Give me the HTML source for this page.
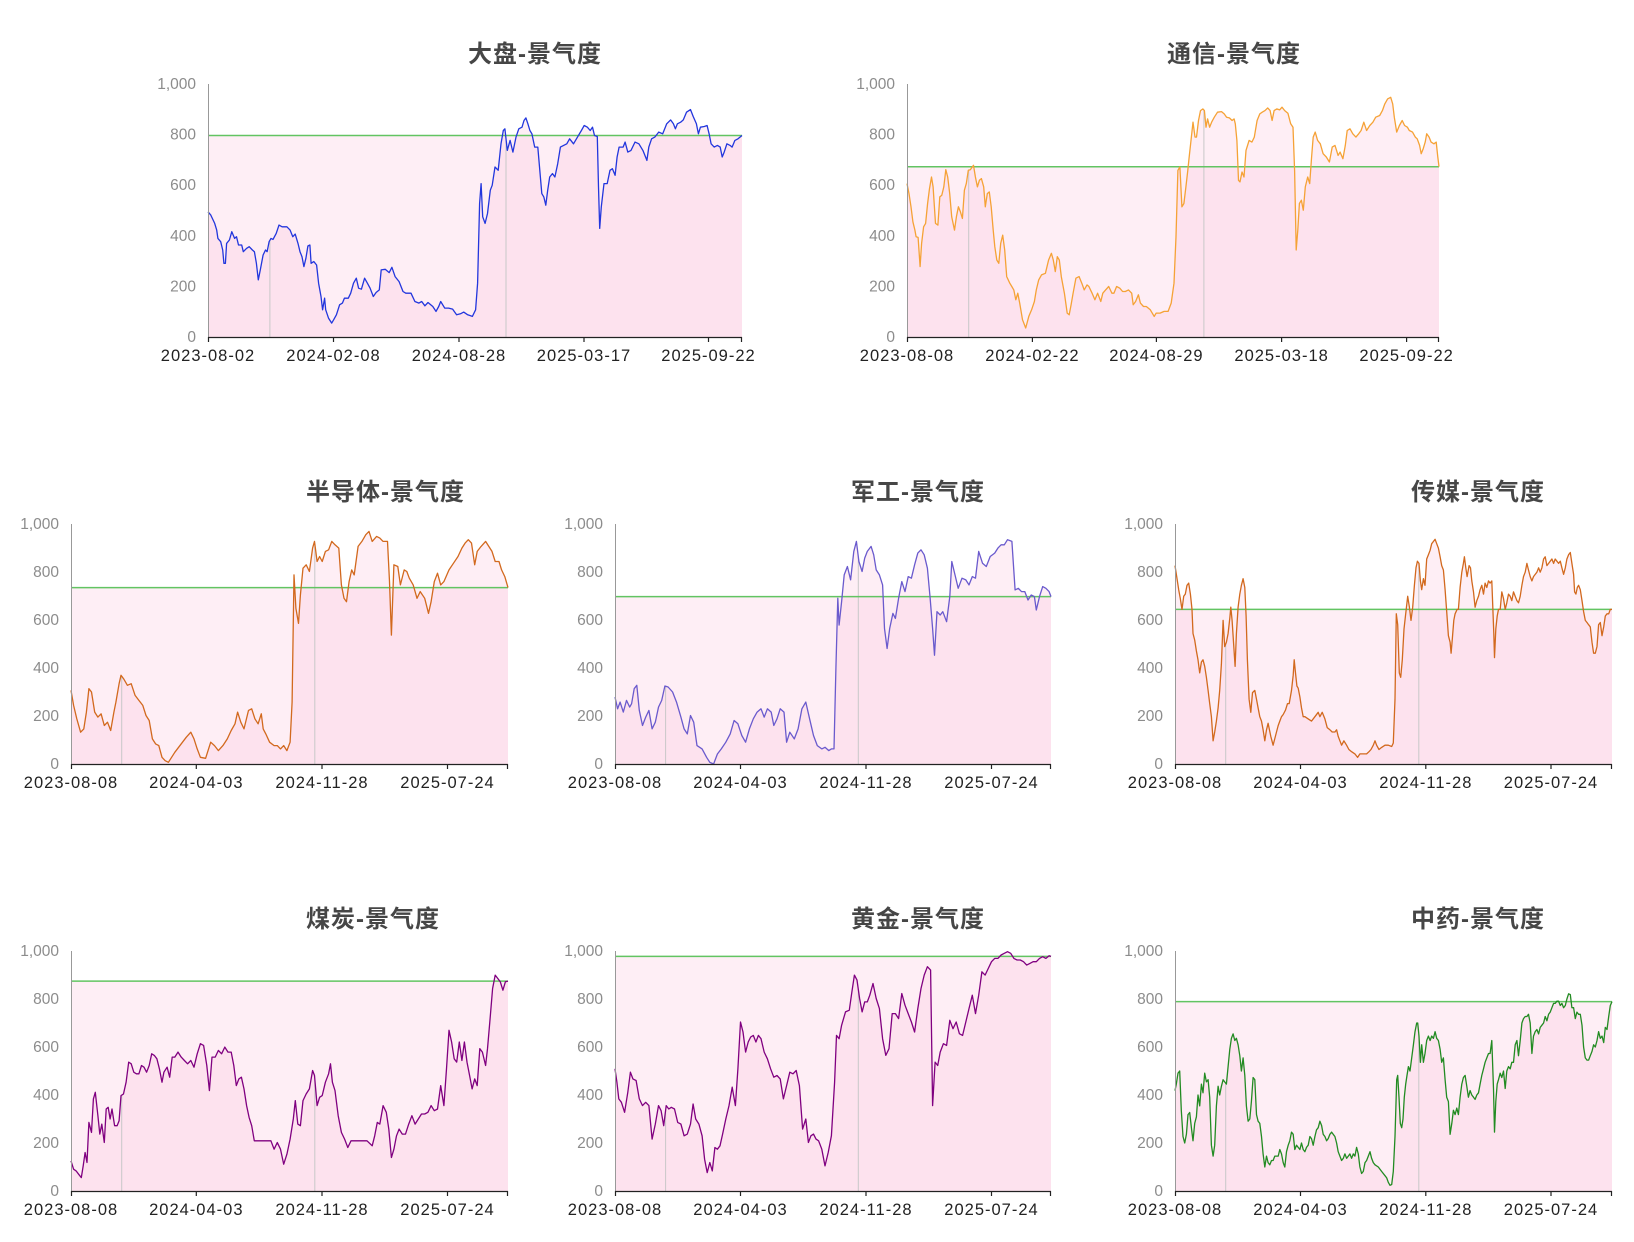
<!DOCTYPE html>
<html><head><meta charset="utf-8">
<style>
html,body{margin:0;padding:0;background:#fff;}
svg{display:block;}
.t{font-family:"Liberation Sans","Noto Sans CJK SC",sans-serif;font-size:24px;font-weight:bold;fill:#464646;letter-spacing:1px;}
.yl{font-family:"Liberation Sans",sans-serif;font-size:15.5px;fill:#8c8c8c;text-anchor:end;}
.xl{font-family:"Liberation Sans",sans-serif;font-size:16.5px;fill:#222;text-anchor:middle;letter-spacing:1px;}
.ya{stroke:#999;stroke-width:1;}
.xa{stroke:#222;stroke-width:1.2;}
</style></head><body>
<svg id="svg" width="1634" height="1242" viewBox="0 0 1634 1242" xmlns="http://www.w3.org/2000/svg">
<rect width="1634" height="1242" fill="#fff"/>
<g id="g0"></g><g id="g1"></g><g id="g2"></g><g id="g3"></g><g id="g4"></g><g id="g5"></g><g id="g6"></g><g id="g7"></g>

<!-- Titles -->
<text class="t" x="468" y="62">大盘-景气度</text>
<text class="t" x="1167" y="62">通信-景气度</text>
<text class="t" x="306" y="500">半导体-景气度</text>
<text class="t" x="851" y="500">军工-景气度</text>
<text class="t" x="1411" y="500">传媒-景气度</text>
<text class="t" x="306" y="927">煤炭-景气度</text>
<text class="t" x="851" y="927">黄金-景气度</text>
<text class="t" x="1411" y="927">中药-景气度</text>

<!-- Chart A axes -->
<line class="ya" x1="208.5" y1="84" x2="208.5" y2="337"/>
<line class="xa" x1="208" y1="337.5" x2="742" y2="337.5"/>
<g stroke="#222" stroke-width="1.2">
<line x1="208.5" y1="337" x2="208.5" y2="342"/><line x1="333.5" y1="337" x2="333.5" y2="342"/><line x1="459" y1="337" x2="459" y2="342"/><line x1="584" y1="337" x2="584" y2="342"/><line x1="708.5" y1="337" x2="708.5" y2="342"/><line x1="741.5" y1="337" x2="741.5" y2="342"/>
</g>
<text class="yl" x="196" y="342">0</text><text class="yl" x="196" y="291.4">200</text><text class="yl" x="196" y="240.8">400</text><text class="yl" x="196" y="190.2">600</text><text class="yl" x="196" y="139.6">800</text><text class="yl" x="196" y="89">1,000</text>
<text class="xl" x="208" y="361">2023-08-02</text><text class="xl" x="333.5" y="361">2024-02-08</text><text class="xl" x="459" y="361">2024-08-28</text><text class="xl" x="584" y="361">2025-03-17</text><text class="xl" x="708.5" y="361">2025-09-22</text>

<!-- Chart B axes -->
<line class="ya" x1="907.5" y1="84" x2="907.5" y2="337"/>
<line class="xa" x1="907" y1="337.5" x2="1439" y2="337.5"/>
<g stroke="#222" stroke-width="1.2">
<line x1="907.5" y1="337" x2="907.5" y2="342"/><line x1="1032.4" y1="337" x2="1032.4" y2="342"/><line x1="1156.4" y1="337" x2="1156.4" y2="342"/><line x1="1281.6" y1="337" x2="1281.6" y2="342"/><line x1="1406.6" y1="337" x2="1406.6" y2="342"/><line x1="1438.5" y1="337" x2="1438.5" y2="342"/>
</g>
<text class="yl" x="895" y="342">0</text><text class="yl" x="895" y="291.4">200</text><text class="yl" x="895" y="240.8">400</text><text class="yl" x="895" y="190.2">600</text><text class="yl" x="895" y="139.6">800</text><text class="yl" x="895" y="89">1,000</text>
<text class="xl" x="907" y="361">2023-08-08</text><text class="xl" x="1032.4" y="361">2024-02-22</text><text class="xl" x="1156.4" y="361">2024-08-29</text><text class="xl" x="1281.6" y="361">2025-03-18</text><text class="xl" x="1406.6" y="361">2025-09-22</text>

<!-- Chart C axes -->
<line class="ya" x1="71.5" y1="524" x2="71.5" y2="764"/>
<line class="xa" x1="71" y1="764.5" x2="508" y2="764.5"/>
<g stroke="#222" stroke-width="1.2">
<line x1="71.5" y1="764" x2="71.5" y2="769"/><line x1="196.3" y1="764" x2="196.3" y2="769"/><line x1="322" y1="764" x2="322" y2="769"/><line x1="447.5" y1="764" x2="447.5" y2="769"/><line x1="507.5" y1="764" x2="507.5" y2="769"/>
</g>
<text class="yl" x="59" y="769">0</text><text class="yl" x="59" y="721">200</text><text class="yl" x="59" y="673">400</text><text class="yl" x="59" y="625">600</text><text class="yl" x="59" y="577">800</text><text class="yl" x="59" y="529">1,000</text>
<text class="xl" x="71" y="788">2023-08-08</text><text class="xl" x="196.3" y="788">2024-04-03</text><text class="xl" x="322" y="788">2024-11-28</text><text class="xl" x="447.5" y="788">2025-07-24</text>

<!-- Chart D axes -->
<line class="ya" x1="615.5" y1="524" x2="615.5" y2="764"/>
<line class="xa" x1="615" y1="764.5" x2="1051" y2="764.5"/>
<g stroke="#222" stroke-width="1.2">
<line x1="615.5" y1="764" x2="615.5" y2="769"/><line x1="740.5" y1="764" x2="740.5" y2="769"/><line x1="866" y1="764" x2="866" y2="769"/><line x1="991.5" y1="764" x2="991.5" y2="769"/><line x1="1050.5" y1="764" x2="1050.5" y2="769"/>
</g>
<text class="yl" x="603" y="769">0</text><text class="yl" x="603" y="721">200</text><text class="yl" x="603" y="673">400</text><text class="yl" x="603" y="625">600</text><text class="yl" x="603" y="577">800</text><text class="yl" x="603" y="529">1,000</text>
<text class="xl" x="615" y="788">2023-08-08</text><text class="xl" x="740.5" y="788">2024-04-03</text><text class="xl" x="866" y="788">2024-11-28</text><text class="xl" x="991.5" y="788">2025-07-24</text>

<!-- Chart E axes -->
<line class="ya" x1="1175.5" y1="524" x2="1175.5" y2="764"/>
<line class="xa" x1="1175" y1="764.5" x2="1612" y2="764.5"/>
<g stroke="#222" stroke-width="1.2">
<line x1="1175.5" y1="764" x2="1175.5" y2="769"/><line x1="1300.5" y1="764" x2="1300.5" y2="769"/><line x1="1425.8" y1="764" x2="1425.8" y2="769"/><line x1="1551" y1="764" x2="1551" y2="769"/><line x1="1611.5" y1="764" x2="1611.5" y2="769"/>
</g>
<text class="yl" x="1163" y="769">0</text><text class="yl" x="1163" y="721">200</text><text class="yl" x="1163" y="673">400</text><text class="yl" x="1163" y="625">600</text><text class="yl" x="1163" y="577">800</text><text class="yl" x="1163" y="529">1,000</text>
<text class="xl" x="1175" y="788">2023-08-08</text><text class="xl" x="1300.5" y="788">2024-04-03</text><text class="xl" x="1425.8" y="788">2024-11-28</text><text class="xl" x="1551" y="788">2025-07-24</text>

<!-- Chart F axes -->
<line class="ya" x1="71.5" y1="951" x2="71.5" y2="1191"/>
<line class="xa" x1="71" y1="1191.5" x2="508" y2="1191.5"/>
<g stroke="#222" stroke-width="1.2">
<line x1="71.5" y1="1191" x2="71.5" y2="1196"/><line x1="196.3" y1="1191" x2="196.3" y2="1196"/><line x1="322" y1="1191" x2="322" y2="1196"/><line x1="447.5" y1="1191" x2="447.5" y2="1196"/><line x1="507.5" y1="1191" x2="507.5" y2="1196"/>
</g>
<text class="yl" x="59" y="1196">0</text><text class="yl" x="59" y="1148">200</text><text class="yl" x="59" y="1100">400</text><text class="yl" x="59" y="1052">600</text><text class="yl" x="59" y="1004">800</text><text class="yl" x="59" y="956">1,000</text>
<text class="xl" x="71" y="1215">2023-08-08</text><text class="xl" x="196.3" y="1215">2024-04-03</text><text class="xl" x="322" y="1215">2024-11-28</text><text class="xl" x="447.5" y="1215">2025-07-24</text>

<!-- Chart G axes -->
<line class="ya" x1="615.5" y1="951" x2="615.5" y2="1191"/>
<line class="xa" x1="615" y1="1191.5" x2="1051" y2="1191.5"/>
<g stroke="#222" stroke-width="1.2">
<line x1="615.5" y1="1191" x2="615.5" y2="1196"/><line x1="740.5" y1="1191" x2="740.5" y2="1196"/><line x1="866" y1="1191" x2="866" y2="1196"/><line x1="991.5" y1="1191" x2="991.5" y2="1196"/><line x1="1050.5" y1="1191" x2="1050.5" y2="1196"/>
</g>
<text class="yl" x="603" y="1196">0</text><text class="yl" x="603" y="1148">200</text><text class="yl" x="603" y="1100">400</text><text class="yl" x="603" y="1052">600</text><text class="yl" x="603" y="1004">800</text><text class="yl" x="603" y="956">1,000</text>
<text class="xl" x="615" y="1215">2023-08-08</text><text class="xl" x="740.5" y="1215">2024-04-03</text><text class="xl" x="866" y="1215">2024-11-28</text><text class="xl" x="991.5" y="1215">2025-07-24</text>

<!-- Chart H axes -->
<line class="ya" x1="1175.5" y1="951" x2="1175.5" y2="1191"/>
<line class="xa" x1="1175" y1="1191.5" x2="1612" y2="1191.5"/>
<g stroke="#222" stroke-width="1.2">
<line x1="1175.5" y1="1191" x2="1175.5" y2="1196"/><line x1="1300.5" y1="1191" x2="1300.5" y2="1196"/><line x1="1425.8" y1="1191" x2="1425.8" y2="1196"/><line x1="1551" y1="1191" x2="1551" y2="1196"/><line x1="1611.5" y1="1191" x2="1611.5" y2="1196"/>
</g>
<text class="yl" x="1163" y="1196">0</text><text class="yl" x="1163" y="1148">200</text><text class="yl" x="1163" y="1100">400</text><text class="yl" x="1163" y="1052">600</text><text class="yl" x="1163" y="1004">800</text><text class="yl" x="1163" y="956">1,000</text>
<text class="xl" x="1175" y="1215">2023-08-08</text><text class="xl" x="1300.5" y="1215">2024-04-03</text><text class="xl" x="1425.8" y="1215">2024-11-28</text><text class="xl" x="1551" y="1215">2025-07-24</text>
</svg>

<script>
var C=[
{x0:208,x1:742,yt:84,yb:337,dx0:173,dx1:1520,dyb:922,dyt:160,color:"#2236dd",p:"173,545 180,555 190,580 195,600 198,625 205,635 210,660 213,700 217,700 220,640 227,630 233,605 240,625 245,620 250,645 258,645 262,665 270,655 277,650 285,660 290,665 295,700 300,750 305,720 312,675 318,660 322,665 327,635 332,625 337,628 345,610 352,585 360,590 372,590 380,600 387,620 393,612 400,640 405,665 410,680 415,710 420,685 425,648 430,645 433,700 440,695 447,705 452,760 458,800 462,840 467,805 470,840 477,865 485,880 490,870 497,855 505,825 512,820 517,805 527,805 533,790 540,760 547,745 553,775 560,778 568,745 575,760 582,775 590,800 597,788 605,780 610,720 620,718 630,728 637,712 645,740 655,755 665,785 672,790 685,790 695,815 705,820 712,815 720,828 728,818 740,830 748,845 755,830 760,815 770,835 780,835 790,838 800,855 810,852 818,847 828,855 840,860 848,840 853,760 858,520 862,460 866,560 872,580 878,550 885,480 890,465 897,410 905,420 912,340 918,300 922,295 928,360 935,330 942,365 950,320 957,295 965,290 970,270 975,262 980,280 985,300 990,310 997,350 1005,350 1010,420 1015,490 1020,500 1025,525 1030,480 1035,440 1042,430 1048,440 1055,400 1062,350 1070,345 1078,340 1085,325 1095,340 1105,320 1115,300 1122,285 1130,290 1137,300 1143,290 1148,315 1155,318 1158,470 1161,595 1165,530 1172,460 1180,460 1187,420 1193,415 1200,435 1205,380 1210,350 1220,350 1225,335 1232,365 1240,360 1250,335 1260,340 1270,360 1280,390 1285,350 1292,325 1300,320 1310,305 1320,310 1330,280 1340,268 1347,280 1352,295 1357,280 1365,275 1372,268 1380,245 1390,237 1397,258 1405,280 1410,310 1415,290 1425,288 1432,285 1437,310 1442,340 1450,350 1458,345 1465,350 1470,380 1475,365 1482,340 1490,345 1495,350 1502,330 1510,325 1520,315"},
{x0:907,x1:1439,yt:84,yb:337,dx0:170,dx1:1515,dyb:922,dyt:160,color:"#f5a236",p:"170,460 175,490 180,530 185,575 190,600 193,620 198,622 203,710 207,640 212,590 217,580 222,520 227,475 232,440 236,470 242,580 248,585 253,500 258,495 263,470 268,418 273,440 278,490 283,560 290,600 295,560 300,530 305,545 310,565 315,480 320,460 325,420 330,418 338,405 343,440 348,470 353,450 358,445 364,470 368,530 373,490 378,485 383,530 388,600 392,650 397,690 402,700 407,640 412,615 417,660 422,740 430,760 435,770 440,780 445,810 450,790 455,820 462,870 470,895 478,860 485,840 492,815 497,780 503,750 510,735 520,730 528,690 535,670 540,690 545,725 550,680 555,690 560,740 568,790 575,850 580,855 585,825 590,790 597,745 605,740 612,760 618,780 625,765 630,770 638,790 645,810 652,790 660,815 665,790 672,780 680,770 688,790 693,790 700,770 708,775 715,785 722,785 730,780 738,790 742,825 748,815 755,795 760,820 768,830 775,830 785,840 795,860 800,850 810,850 820,845 830,845 838,820 845,760 850,620 855,420 860,410 865,530 870,520 875,470 880,420 883,385 888,330 893,275 898,320 902,320 907,270 912,240 918,235 922,240 926,290 930,265 935,290 940,275 947,260 955,245 965,243 972,250 978,260 985,262 992,270 997,265 1000,280 1004,330 1008,450 1012,455 1017,425 1022,440 1027,360 1035,330 1042,335 1048,320 1055,270 1062,250 1068,245 1075,240 1082,232 1088,240 1093,270 1098,240 1105,235 1112,238 1118,230 1125,240 1133,248 1140,280 1146,290 1150,420 1154,660 1158,600 1162,520 1167,510 1172,540 1177,470 1183,440 1188,460 1193,380 1197,320 1202,305 1208,330 1215,340 1222,370 1230,380 1238,395 1245,350 1252,345 1260,375 1265,365 1272,385 1278,345 1283,300 1290,295 1297,310 1305,320 1312,310 1318,300 1325,275 1332,300 1340,285 1348,275 1355,260 1365,255 1372,240 1378,220 1385,205 1393,200 1398,220 1402,260 1408,305 1415,285 1422,270 1428,285 1435,290 1440,300 1448,305 1455,320 1460,325 1466,345 1470,370 1475,355 1480,335 1484,310 1490,320 1495,335 1502,340 1508,335 1512,380 1515,409"},
{x0:71,x1:508,yt:524,yb:764,dx0:18,dx1:700,dyb:745,dyt:28,color:"#d2691e",p:"18,525 22,570 27,610 33,650 38,640 42,590 46,520 50,530 55,590 60,605 65,595 70,630 75,620 80,645 85,590 88,560 93,505 96,480 100,490 106,510 112,505 118,540 124,555 130,570 135,600 140,615 145,670 150,685 155,690 160,725 165,735 170,740 175,725 180,710 186,695 192,680 198,665 205,650 210,670 215,700 220,725 228,728 236,680 242,690 248,705 255,690 262,670 268,645 274,625 278,590 283,620 288,640 295,585 300,580 305,610 310,625 315,595 318,640 322,655 328,680 335,690 340,690 345,700 350,690 355,705 360,680 363,560 366,180 369,280 373,325 376,240 380,160 385,150 390,170 395,100 398,80 402,140 406,125 410,140 415,110 420,105 425,80 430,90 436,100 440,210 444,250 448,260 452,200 456,165 460,180 466,95 472,80 478,60 483,50 488,80 495,65 500,70 505,80 512,80 515,200 518,360 522,150 528,155 532,210 538,165 542,170 546,190 552,210 558,250 563,230 570,250 576,295 580,260 585,200 590,175 595,210 600,200 608,165 615,145 622,125 628,100 633,85 638,75 643,85 648,150 652,110 658,95 665,80 670,95 675,110 680,140 686,140 690,165 695,185 700,218"},
{x0:615,x1:1051,yt:524,yb:764,dx0:872,dx1:1553,dyb:745,dyt:28,color:"#6a5acd",p:"872,545 876,580 880,560 885,590 890,555 895,575 898,565 902,520 906,510 910,585 915,630 920,605 925,585 930,640 935,620 940,575 945,555 950,512 955,515 962,530 968,560 975,605 980,640 985,655 990,600 995,620 1000,690 1008,700 1015,725 1020,740 1026,745 1032,715 1038,700 1045,680 1052,655 1058,615 1064,625 1070,660 1076,680 1082,640 1088,610 1094,590 1100,580 1105,605 1110,580 1116,590 1120,630 1125,610 1130,580 1136,590 1140,680 1145,650 1152,670 1158,640 1164,580 1170,560 1176,610 1182,660 1188,690 1195,700 1200,695 1206,705 1210,700 1214,700 1217,460 1220,250 1222,330 1226,260 1230,180 1235,155 1240,195 1245,110 1249,80 1253,140 1258,170 1262,130 1266,110 1272,95 1276,120 1280,165 1285,180 1290,210 1293,340 1297,400 1301,340 1306,295 1310,310 1315,250 1320,200 1325,230 1330,185 1335,190 1340,150 1345,115 1350,105 1355,120 1360,160 1364,245 1368,340 1371,420 1375,290 1380,300 1384,290 1390,320 1395,245 1398,140 1403,180 1408,220 1414,190 1420,195 1425,210 1430,185 1435,190 1440,110 1446,145 1452,155 1458,125 1465,115 1470,100 1475,90 1480,90 1485,75 1492,80 1497,225 1502,220 1507,230 1512,230 1517,255 1522,240 1527,245 1530,285 1535,245 1540,215 1545,220 1550,230 1553,245"},
{x0:1175,x1:1612,yt:524,yb:764,dx0:31,dx1:1340,dyb:568,dyt:20,color:"#d2691e",p:"31,115 36,140 42,170 47,190 52,215 57,185 62,180 67,160 72,155 77,180 82,215 85,270 90,285 95,310 100,330 105,360 110,335 115,330 120,345 125,370 130,400 135,430 140,460 145,515 150,495 155,470 160,440 165,400 170,340 175,240 180,300 185,290 190,270 195,235 198,210 202,240 207,300 211,345 215,270 220,210 225,180 230,160 235,145 240,165 244,230 248,330 253,420 258,450 263,405 270,400 275,420 280,440 285,460 290,470 295,490 300,515 305,490 310,475 318,505 325,525 330,510 335,495 340,480 345,470 350,460 355,455 362,445 368,430 373,430 380,400 385,365 388,330 392,360 396,390 400,395 405,415 410,440 415,460 420,460 430,465 440,470 450,460 460,450 465,460 472,450 480,465 487,485 495,490 502,495 510,495 515,490 520,505 525,515 530,525 537,515 545,525 552,535 560,540 570,545 578,553 585,545 595,545 605,545 612,540 618,535 625,525 630,515 635,525 642,535 650,530 660,525 670,525 680,528 685,520 690,420 694,225 698,250 703,360 707,370 712,330 717,260 722,225 728,185 733,210 738,240 743,210 748,160 753,120 757,105 762,110 766,150 770,170 775,145 780,160 785,100 790,90 795,80 800,65 805,60 810,55 815,65 820,75 825,95 830,115 835,125 840,170 845,220 850,275 855,290 858,315 862,280 866,240 870,225 876,215 880,215 885,165 890,130 895,110 898,95 902,120 906,140 912,115 916,120 920,150 925,175 930,210 935,195 940,185 945,170 950,160 955,180 960,155 965,165 970,150 975,155 980,150 983,210 986,270 988,325 992,260 996,230 1000,215 1005,215 1010,175 1015,190 1020,215 1025,200 1030,180 1035,185 1040,195 1045,175 1050,185 1055,195 1060,200 1065,185 1070,160 1075,140 1080,130 1085,110 1090,125 1095,140 1100,150 1105,140 1110,135 1115,130 1120,120 1125,130 1130,120 1135,100 1140,95 1145,115 1150,110 1155,105 1160,100 1165,110 1170,100 1175,105 1180,110 1185,105 1190,120 1195,135 1200,120 1205,100 1210,90 1215,85 1220,110 1225,135 1228,175 1232,180 1236,165 1240,160 1245,170 1250,195 1255,220 1260,240 1265,245 1270,250 1275,255 1280,290 1285,315 1290,315 1295,300 1300,250 1305,245 1310,275 1315,255 1320,230 1325,225 1330,225 1335,215 1340,215"},
{x0:71,x1:508,yt:951,yb:1191,dx0:18,dx1:700,dyb:745,dyt:28,color:"#800080",p:"18,655 22,680 26,685 30,695 34,705 37,670 40,630 43,660 46,540 50,570 53,470 56,450 60,520 63,575 66,545 70,600 73,500 76,495 79,530 82,500 86,550 90,550 93,535 96,460 100,455 104,420 108,360 112,365 116,390 120,395 124,395 128,370 132,375 136,390 140,370 144,335 148,340 152,350 156,380 160,420 163,390 168,375 172,405 176,345 180,345 185,330 190,345 195,355 200,365 205,355 210,375 215,335 220,305 225,310 230,370 234,445 238,345 243,345 248,325 253,335 258,315 263,330 268,330 272,370 276,430 280,410 284,405 288,440 292,490 296,525 300,550 304,595 308,595 315,595 320,595 325,595 330,595 335,620 340,600 345,620 350,665 355,635 360,590 365,530 368,475 372,545 376,550 380,475 385,455 390,440 395,385 398,400 402,490 406,465 410,460 415,420 420,395 423,365 426,420 430,445 435,520 440,570 445,590 450,615 455,595 460,595 470,595 480,595 488,610 492,580 496,540 500,545 505,490 510,510 514,560 518,645 522,620 526,580 530,560 535,575 540,575 545,545 550,520 555,545 560,530 565,515 570,515 575,510 580,490 585,505 590,500 595,430 600,490 604,380 608,265 612,300 616,350 620,360 624,300 628,355 632,300 636,360 640,400 644,440 648,410 652,430 656,320 660,330 665,370 668,320 672,230 676,140 680,100 684,110 688,120 692,145 696,120 700,118"},
{x0:615,x1:1051,yt:951,yb:1191,dx0:872,dx1:1553,dyb:745,dyt:28,color:"#800080",p:"872,380 875,420 878,470 882,480 887,510 892,450 896,390 900,410 905,415 910,470 915,490 920,480 925,490 930,590 935,545 940,490 944,505 948,550 952,490 956,500 960,495 965,500 970,540 975,545 980,580 985,575 990,545 994,485 998,530 1003,545 1008,580 1012,650 1016,690 1020,660 1024,685 1028,615 1032,620 1036,610 1040,575 1045,530 1050,490 1055,435 1060,490 1064,380 1068,240 1072,270 1076,330 1080,300 1084,285 1088,280 1092,300 1096,280 1100,290 1105,330 1110,350 1115,380 1120,405 1125,400 1130,410 1135,470 1140,430 1145,390 1150,395 1155,385 1160,430 1165,560 1170,530 1174,600 1178,580 1182,575 1186,590 1190,595 1195,620 1200,670 1205,630 1210,580 1215,420 1218,280 1222,290 1226,250 1232,210 1238,205 1242,150 1246,100 1250,115 1254,170 1258,210 1262,180 1266,180 1270,160 1275,125 1280,170 1285,200 1290,290 1295,340 1300,320 1305,215 1310,215 1315,230 1320,155 1325,190 1330,215 1335,240 1340,270 1345,200 1350,140 1355,100 1360,75 1365,85 1368,490 1372,360 1376,370 1380,330 1385,305 1390,310 1395,235 1400,260 1405,240 1410,275 1415,280 1420,240 1425,200 1430,160 1435,215 1440,160 1445,90 1450,100 1455,80 1460,60 1465,50 1470,50 1475,40 1480,35 1485,30 1490,35 1495,50 1500,55 1505,55 1510,60 1515,70 1520,65 1525,60 1530,60 1535,50 1540,45 1545,50 1550,42 1553,44"},
{x0:1175,x1:1612,yt:951,yb:1191,dx0:31,dx1:1340,dyb:1545,dyt:995,color:"#228b22",p:"31,1315 35,1300 40,1275 45,1270 50,1360 55,1420 60,1435 65,1415 70,1370 75,1365 80,1400 85,1430 90,1390 95,1375 100,1325 105,1350 110,1300 115,1320 120,1275 125,1295 130,1290 135,1330 140,1440 145,1465 150,1440 155,1350 160,1305 165,1325 170,1305 175,1290 180,1295 185,1300 190,1260 195,1220 200,1195 205,1185 210,1200 215,1195 220,1210 225,1235 230,1270 235,1240 240,1280 245,1350 250,1385 255,1380 260,1340 265,1285 270,1290 275,1370 280,1385 285,1390 290,1420 295,1460 300,1490 305,1465 310,1480 315,1485 320,1475 325,1475 330,1465 340,1465 345,1450 350,1460 355,1480 360,1490 365,1455 370,1440 375,1430 380,1410 385,1415 390,1450 395,1440 400,1445 405,1450 410,1435 415,1450 420,1455 425,1445 430,1440 435,1420 440,1425 445,1440 450,1420 455,1405 460,1400 465,1385 470,1395 475,1415 480,1420 485,1430 490,1425 495,1415 500,1410 505,1415 510,1420 515,1435 520,1455 525,1465 530,1475 535,1470 540,1460 545,1470 550,1465 555,1460 560,1470 565,1460 570,1465 575,1445 580,1460 585,1490 590,1505 595,1500 600,1480 605,1475 610,1465 615,1455 620,1470 625,1480 630,1485 640,1490 650,1500 660,1510 665,1515 670,1525 675,1532 680,1530 685,1500 690,1420 695,1290 698,1280 702,1330 706,1390 710,1400 714,1380 718,1330 722,1300 726,1280 730,1260 735,1270 740,1240 745,1210 750,1180 755,1160 758,1160 762,1190 766,1250 770,1210 775,1250 780,1230 785,1200 790,1190 795,1200 800,1190 805,1195 810,1180 815,1195 820,1200 825,1220 830,1250 835,1240 840,1290 845,1330 850,1340 855,1415 860,1390 865,1360 870,1370 875,1355 880,1370 885,1330 890,1300 895,1285 900,1280 905,1305 910,1330 915,1315 920,1325 925,1330 930,1335 935,1325 940,1320 945,1300 950,1280 955,1265 960,1250 965,1240 970,1230 975,1230 980,1200 985,1310 988,1410 992,1340 996,1300 1000,1290 1005,1275 1010,1285 1015,1270 1020,1310 1025,1270 1030,1260 1035,1265 1040,1250 1045,1250 1050,1210 1055,1200 1060,1235 1065,1200 1070,1160 1075,1150 1080,1145 1085,1145 1090,1140 1095,1160 1100,1230 1105,1190 1110,1180 1115,1175 1120,1185 1125,1170 1130,1165 1135,1160 1140,1145 1145,1155 1150,1140 1155,1135 1160,1125 1165,1115 1170,1115 1175,1110 1180,1110 1185,1120 1190,1115 1195,1125 1200,1120 1205,1105 1210,1093 1215,1095 1220,1125 1225,1125 1230,1150 1235,1135 1240,1140 1245,1140 1250,1165 1255,1215 1260,1240 1265,1245 1270,1245 1275,1235 1280,1225 1285,1210 1290,1215 1295,1200 1300,1180 1305,1195 1310,1190 1315,1205 1320,1170 1325,1175 1330,1145 1335,1120 1340,1111"}
];
var FILL='rgb(252,200,222)';
C.forEach(function(c,i){
  var pts=c.p.trim().split(/\s+/).map(function(s){
    var a=s.split(',').map(Number);
    var X=c.x0+(a[0]-c.dx0)/(c.dx1-c.dx0)*(c.x1-c.x0);
    var Y=c.yb+(a[1]-c.dyb)/(c.dyt-c.dyb)*(c.yt-c.yb);
    if(Y>c.yb)Y=c.yb; if(Y<c.yt-2)Y=c.yt-2;
    if(X<c.x0)X=c.x0; if(X>c.x1)X=c.x1;
    return [X,Y];
  });
  var thrY=pts[pts.length-1][1];
  var line=pts.map(function(p){return p[0].toFixed(1)+','+p[1].toFixed(1);}).join(' ');
  var s='';
  s+='<rect x="'+c.x0+'" y="'+thrY.toFixed(1)+'" width="'+(c.x1-c.x0)+'" height="'+(c.yb-thrY).toFixed(1)+'" fill="'+FILL+'" fill-opacity="0.3"/>';
  s+='<polygon points="'+c.x0+','+c.yb+' '+line+' '+c.x1+','+c.yb+'" fill="'+FILL+'" fill-opacity="0.3"/>';
  [0.116,0.558].forEach(function(u){
    var X=c.x0+u*(c.x1-c.x0),Y=c.yb;
    for(var k=1;k<pts.length;k++){
      if(pts[k][0]>=X){var a=pts[k-1],b=pts[k];var t=(X-a[0])/((b[0]-a[0])||1);Y=a[1]+t*(b[1]-a[1]);break;}
    }
    s+='<line x1="'+X.toFixed(1)+'" x2="'+X.toFixed(1)+'" y1="'+c.yb+'" y2="'+Y.toFixed(1)+'" stroke="#c8c8c8" stroke-width="1"/>';
  });
  s+='<line x1="'+c.x0+'" x2="'+c.x1+'" y1="'+thrY.toFixed(1)+'" y2="'+thrY.toFixed(1)+'" stroke="#62c462" stroke-width="1.5"/>';
  s+='<polyline points="'+line+'" fill="none" stroke="'+c.color+'" stroke-width="1.3" stroke-linejoin="round"/>';
  document.getElementById('g'+i).innerHTML=s;
});
</script>
</body></html>
